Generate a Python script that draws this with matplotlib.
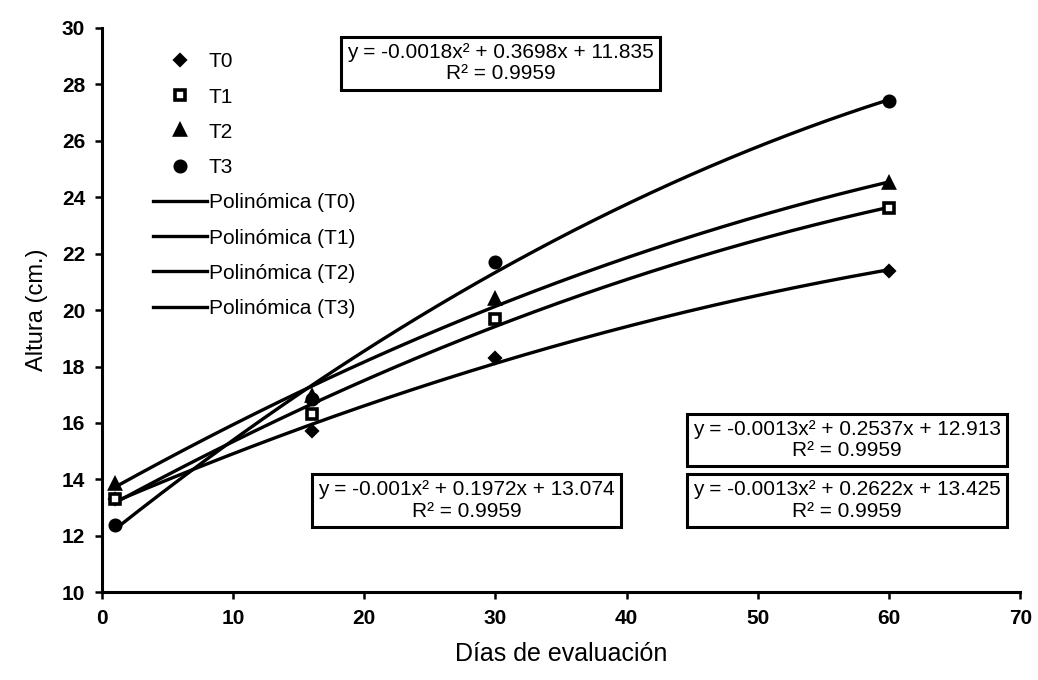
import numpy as np
import matplotlib.pyplot as plt

plt.rcParams['font.family'] = ['Liberation Sans', 'DejaVu Sans']

# days of evaluation and plant height (cm) per treatment
dias = [1, 16, 30, 60]
t0 = [13.3, 15.7, 18.3, 21.4]
t1 = [13.3, 16.3, 19.7, 23.6]
t2 = [13.85, 16.95, 20.4, 24.5]
t3 = [12.4, 16.85, 21.7, 27.4]

series = {'T0': t0, 'T1': t1, 'T2': t2, 'T3': t3}
markers = {'T0': 'D', 'T1': 's', 'T2': '^', 'T3': 'o'}
msizes = {'T0': 5.5, 'T1': 6.5, 'T2': 6.5, 'T3': 7.5}

ecuaciones = {
    'T3': 'y = -0.0018x² + 0.3698x + 11.835\nR² = 0.9959',
    'T1': 'y = -0.0013x² + 0.2537x + 12.913\nR² = 0.9959',
    'T2': 'y = -0.0013x² + 0.2622x + 13.425\nR² = 0.9959',
    'T0': 'y = -0.001x² + 0.1972x + 13.074\nR² = 0.9959',
}
# label positions in data coordinates
pos_eq = {'T3': (30.4, 28.75), 'T1': (56.8, 15.4), 'T2': (56.8, 13.25), 'T0': (27.8, 13.25)}

fig = plt.figure(figsize=(10.38, 6.8), dpi=100)
ax = fig.add_axes([0.098, 0.129, 0.885, 0.83])

handles_pts = []
handles_lin = []
xs = np.linspace(min(dias), max(dias), 200)
for name, vals in series.items():
    mfc = 'white' if name == 'T1' else 'black'
    h, = ax.plot(dias, vals, linestyle='none', marker=markers[name],
                 markersize=msizes[name], color='black', markerfacecolor=mfc,
                 markeredgewidth=2.6, label=name, zorder=3)
    handles_pts.append(h)
for name, vals in series.items():
    coef = np.polyfit(dias, vals, 2)
    h, = ax.plot(xs, np.polyval(coef, xs), color='black', linewidth=2.4,
                 label='Polinómica (%s)' % name, zorder=2)
    handles_lin.append(h)

for name, txt in ecuaciones.items():
    ax.text(pos_eq[name][0], pos_eq[name][1], txt, ha='center', va='center',
            fontsize=15, linespacing=1.15,
            bbox=dict(boxstyle='square,pad=0.3', facecolor='white',
                      edgecolor='black', linewidth=2.2))

ax.legend(handles=handles_pts + handles_lin, loc='upper left',
          bbox_to_anchor=(0.035, 0.99), frameon=False, fontsize=15,
          handlelength=2.6, labelspacing=0.78, handletextpad=0.1)

ax.set_xlim(0, 70)
ax.set_ylim(10, 30)
ax.set_xticks(range(0, 71, 10))
ax.set_yticks(range(10, 31, 2))
ax.tick_params(labelsize=15, width=1.8, length=5, pad=7)
for lbl in ax.get_xticklabels() + ax.get_yticklabels():
    lbl.set_fontweight('bold')
for side in ['top', 'right']:
    ax.spines[side].set_visible(False)
for side in ['left', 'bottom']:
    ax.spines[side].set_linewidth(2.2)

ax.set_xlabel('Días de evaluación', fontsize=18, labelpad=10)
ax.set_ylabel('Altura (cm.)', fontsize=17, labelpad=10)

fig.savefig('out.png', dpi=100)
